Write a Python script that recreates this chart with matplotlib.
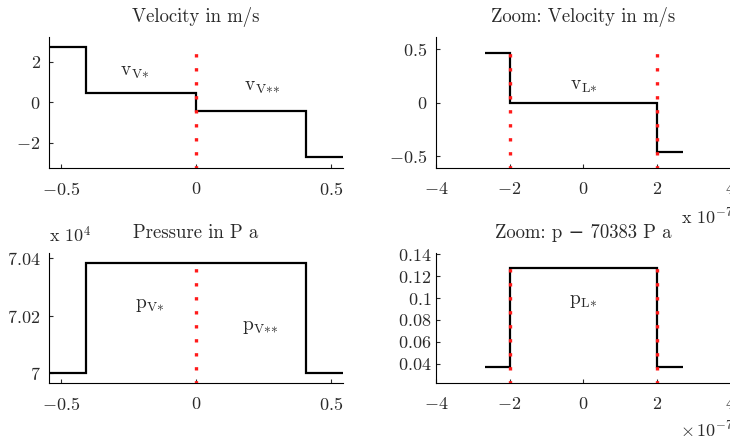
import matplotlib
matplotlib.use("Agg")
import matplotlib.pyplot as plt
from matplotlib.ticker import FuncFormatter

plt.rcParams["font.family"] = ["cmr10", "DejaVu Serif"]
plt.rcParams["mathtext.fontset"] = "cm"
plt.rcParams["axes.formatter.use_mathtext"] = True

TXT = "#2a2a2a"
RED = "#ff1a1a"

# ---------- data ----------
# full domain (x in m)
x_edges = [-0.545, -0.407, 0.0, 0.407, 0.545]
velocity = [2.70, 0.46, -0.46, -2.72]
pressure = [70000, 70383, 70383, 70000]
contact_x = [0.0]

# zoom around contact (x in units of 1e-7 m)
zoom_edges = [-2.67, -1.98, 2.01, 2.70]
zoom_velocity = [0.465, 0.0, -0.46]
zoom_pressure = [0.0373, 0.1277, 0.0373]   # p - 70383 Pa
zoom_lines_x = [-1.98, 2.01]

labels_v = [(-0.226, 1.5, r"$\mathrm{v}_{\mathrm{V}{*}}$"),
            (0.244, 0.75, r"$\mathrm{v}_{\mathrm{V}{*}{*}}$")]
labels_p = [(-0.17, 70237, r"$\mathrm{p}_{\mathrm{V}{*}}$"),
            (0.237, 70159, r"$\mathrm{p}_{\mathrm{V}{*}{*}}$")]


def fmt(v, pos):
    return r"$%g$" % v


def style(ax):
    for s in ("top", "right"):
        ax.spines[s].set_visible(False)
    ax.tick_params(direction="in", length=3, labelsize=13, colors=TXT, pad=6)
    ax.tick_params(axis="x", pad=9)
    ax.xaxis.set_major_formatter(FuncFormatter(fmt))


def red_dots(ax, xs, y0, y1):
    for x in xs:
        ax.plot([x, x], [y0, y1], color=RED, lw=2.4,
                linestyle=(0, (1, 3.2)), zorder=3)


fig = plt.figure(figsize=(7.30, 4.41), dpi=100)

ax1 = fig.add_axes([0.0671, 0.619, 0.403, 0.297])
ax2 = fig.add_axes([0.597, 0.619, 0.404, 0.297])
ax3 = fig.add_axes([0.0671, 0.1308, 0.403, 0.2955])
ax4 = fig.add_axes([0.597, 0.1308, 0.404, 0.2955])

# ---------- velocity ----------
ax1.stairs(velocity, x_edges, baseline=None, color="k", lw=1.6, zorder=2)
red_dots(ax1, contact_x, -3.3, 2.75)
for x, y, t in labels_v:
    ax1.text(x, y, t, fontsize=14, color=TXT, ha="center", va="center")
ax1.set_xlim(-0.545, 0.545)
ax1.set_ylim(-3.26, 3.21)
ax1.set_xticks([-0.5, 0, 0.5])
ax1.set_yticks([-2, 0, 2])
style(ax1)
ax1.yaxis.set_major_formatter(FuncFormatter(fmt))
ax1.set_title("Velocity in m/s", fontsize=13.5, color=TXT, pad=11)

# ---------- zoom velocity ----------
ax2.stairs(zoom_velocity, zoom_edges, baseline=None, color="k", lw=1.6, zorder=2)
red_dots(ax2, zoom_lines_x, -0.62, 0.52)
ax2.text(0.0, 0.15, r"$\mathrm{v}_{\mathrm{L}{*}}$", fontsize=14, color=TXT,
         ha="center", va="center")
ax2.set_xlim(-4, 4)
ax2.set_ylim(-0.61, 0.61)
ax2.set_xticks([-4, -2, 0, 2, 4])
ax2.set_yticks([-0.5, 0, 0.5])
style(ax2)
ax2.yaxis.set_major_formatter(FuncFormatter(fmt))
ax2.set_title("Zoom: Velocity in m/s", fontsize=13.5, color=TXT, pad=11)

# ---------- pressure ----------
ax3.stairs(pressure, x_edges, baseline=None, color="k", lw=1.6, zorder=2)
red_dots(ax3, contact_x, 69960, 70385)
for x, y, t in labels_p:
    ax3.text(x, y, t, fontsize=14, color=TXT, ha="center", va="center")
ax3.set_xlim(-0.545, 0.545)
ax3.set_ylim(69963, 70419)
ax3.set_xticks([-0.5, 0, 0.5])
ax3.set_yticks([70000, 70200, 70400])
style(ax3)
ax3.yaxis.set_major_formatter(FuncFormatter(lambda v, p: r"$%g$" % (v / 1e4)))
ax3.set_title("Pressure in P a", fontsize=13.5, color=TXT, pad=11)

# ---------- zoom pressure ----------
ax4.stairs(zoom_pressure, zoom_edges, baseline=None, color="k", lw=1.6, zorder=2)
red_dots(ax4, zoom_lines_x, 0.0215, 0.132)
ax4.text(0.0, 0.0973, r"$\mathrm{p}_{\mathrm{L}{*}}$", fontsize=14, color=TXT,
         ha="center", va="center")
ax4.set_xlim(-4, 4)
ax4.set_ylim(0.0221, 0.1412)
ax4.set_xticks([-4, -2, 0, 2, 4])
ax4.set_yticks([0.04, 0.06, 0.08, 0.1, 0.12, 0.14])
style(ax4)
ax4.yaxis.set_major_formatter(FuncFormatter(fmt))
ax4.tick_params(axis="y", pad=3)
ax4.set_title("Zoom: p \u2212 70383 P a", fontsize=13.5, color=TXT, pad=11)

# multiplier texts
fig.text(49 / 730, 1 - 245 / 441, r"x $10^{4}$", fontsize=13, color=TXT,
         ha="left", va="bottom")
fig.text(681 / 730, 1 - 227 / 441, r"x $10^{-7}$", fontsize=13, color=TXT,
         ha="left", va="bottom")
fig.text(680 / 730, 1 - 440 / 441, r"$\times\,10^{-7}$", fontsize=13,
         color=TXT, ha="left", va="bottom")

fig.savefig("out.png", dpi=100)
